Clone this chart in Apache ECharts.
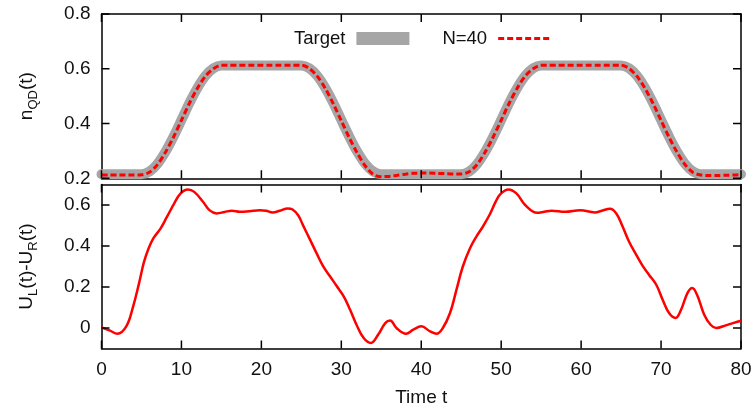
<!DOCTYPE html>
<html>
<head>
<meta charset="utf-8">
<script src="https://cdn.jsdelivr.net/npm/echarts@6/dist/echarts.min.js"></script>
<style>
  html, body { margin: 0; padding: 0; background: #fff; }
  #chart { width: 756px; height: 410px; }
</style>
</head>
<body>
<div id="chart"></div>
<script>
// Sampling times for the occupation curves (upper panel)
const timeSteps = [
  0, 1, 2, 3, 4, 5, 6, 7, 8, 9, 10, 11, 12, 13, 14, 15, 16, 17, 18, 19, 20,
  21, 22, 23, 24, 25, 26, 27, 28, 29, 30, 31, 32, 33, 34, 35, 36, 37, 38, 39, 40,
  41, 42, 43, 44, 45, 46, 47, 48, 49, 50, 51, 52, 53, 54, 55, 56, 57, 58, 59, 60,
  61, 62, 63, 64, 65, 66, 67, 68, 69, 70, 71, 72, 73, 74, 75, 76, 77, 78, 79, 80
];

// Target dot occupation n_QD(t)
const targetOccupation = [
  0.215, 0.215, 0.215, 0.215, 0.215, 0.215,
  0.225, 0.253, 0.297, 0.352, 0.413, 0.475, 0.530, 0.574, 0.602,
  0.612, 0.612, 0.612, 0.612, 0.612, 0.612, 0.612, 0.612, 0.612, 0.612, 0.612,
  0.602, 0.574, 0.530, 0.475, 0.413, 0.352, 0.297, 0.253, 0.225,
  0.215, 0.215, 0.215, 0.215, 0.215, 0.215, 0.215, 0.215, 0.215, 0.215, 0.215,
  0.225, 0.253, 0.297, 0.352, 0.413, 0.475, 0.530, 0.574, 0.602,
  0.612, 0.612, 0.612, 0.612, 0.612, 0.612, 0.612, 0.612, 0.612, 0.612, 0.612,
  0.602, 0.574, 0.530, 0.475, 0.413, 0.352, 0.297, 0.253, 0.225,
  0.215, 0.215, 0.215, 0.215, 0.215, 0.215
];

// Occupation reached with N=40 basis functions
const fittedOccupation = [
  0.212, 0.212, 0.212, 0.212, 0.212, 0.213,
  0.222, 0.250, 0.295, 0.350, 0.412, 0.474, 0.529, 0.573, 0.600,
  0.613, 0.613, 0.613, 0.613, 0.613, 0.613, 0.613, 0.613, 0.613, 0.613, 0.613,
  0.601, 0.572, 0.528, 0.472, 0.410, 0.348, 0.292, 0.245, 0.214,
  0.206, 0.207, 0.211, 0.215, 0.218, 0.219, 0.219, 0.218, 0.217, 0.216, 0.216,
  0.224, 0.251, 0.296, 0.351, 0.412, 0.474, 0.529, 0.573, 0.600,
  0.613, 0.613, 0.613, 0.613, 0.613, 0.613, 0.613, 0.613, 0.613, 0.613, 0.613,
  0.601, 0.572, 0.528, 0.473, 0.411, 0.350, 0.295, 0.250, 0.221,
  0.212, 0.210, 0.210, 0.211, 0.212, 0.213
];

// Bias voltage U_L(t)-U_R(t) (lower panel)
const biasTimes = [
  0, 1, 2, 3.1, 3.9, 4.7, 5.3, 5.9, 6.5, 7.4, 8.2, 9.1, 9.9, 10.8, 11.6, 12.7,
  13.5, 14.4, 15.4, 16.3, 17.3, 18.5, 19.8, 20.6, 21.4, 22.3, 23.3, 23.9, 24.6,
  25.2, 26.1, 26.9, 27.7, 28.6, 29.4, 30.3, 31.1, 31.9, 32.8, 33.7, 34.6, 35.5,
  36.1, 36.9, 38.1, 39.0, 40.0, 41.1, 41.9, 42.7, 43.6, 44.4, 45.2, 46.1, 46.9,
  47.7, 48.6, 49.3, 49.9, 50.9, 51.9, 53.0, 54.5, 55.4, 56.3, 58.0, 59.9, 61.7,
  62.6, 63.6, 64.4, 65.2, 66.0, 66.9, 67.7, 68.5, 69.4, 70.2, 71.0, 71.8, 72.5,
  73.3, 73.9, 74.5, 75.4, 76.2, 76.9, 78.1, 79.0, 80
];
const biasValues = [
  0.003, -0.012, -0.028, 0.008, 0.097, 0.219, 0.320, 0.389, 0.438, 0.486, 0.543, 0.608, 0.657, 0.676, 0.664, 0.616,
  0.575, 0.559, 0.566, 0.572, 0.567, 0.570, 0.575, 0.572, 0.564, 0.572, 0.583, 0.578, 0.550,
  0.502, 0.430, 0.365, 0.303, 0.251, 0.206, 0.154, 0.089, 0.016, -0.049, -0.073, -0.033, 0.024,
  0.037, 0.000, -0.028, -0.008, 0.008, -0.016, -0.028, 0.000, 0.073, 0.186, 0.300, 0.389, 0.446,
  0.494, 0.556, 0.615, 0.653, 0.676, 0.657, 0.600, 0.562, 0.567, 0.572, 0.567, 0.575, 0.564,
  0.572, 0.582, 0.559, 0.494, 0.421, 0.357, 0.303, 0.259, 0.211, 0.138, 0.073, 0.049, 0.089,
  0.170, 0.195, 0.162, 0.065, 0.016, 0.000, 0.013, 0.024, 0.035
];

const timeTicks = [0, 10, 20, 30, 40, 50, 60, 70, 80];
const occupationTicks = [0.2, 0.4, 0.6, 0.8];
const biasTicks = [0, 0.2, 0.4, 0.6];

const TIME_RANGE = [0, 80];
const OCC_RANGE = [0.2, 0.8];
const BIAS_RANGE = [-0.1, 0.7];

const FONT = '"Liberation Sans", Arial, sans-serif';
const FS = 19;
const INK = '#111';
const TICK_LEN = 8;

// panel rectangles (pixels)
const CHART_W = 756;
const PANELS = [
  { left: 101.5, right: 15, top: 14, height: 164.3 },
  { left: 101.5, right: 15, top: 184.5, height: 164 }
];

const frameLine = () => ({ show: true, onZero: false, lineStyle: { color: '#000', width: 1.5 } });
const noTick = () => ({ show: false });
const tickLabel = (vals) => ({ show: true, customValues: vals.slice(), fontSize: FS, color: INK, margin: 11, fontFamily: FONT });
const noLabel = () => ({ show: false });
const noSplit = () => ({ show: false });
const subscriptRich = () => ({
  a: { fontSize: FS, lineHeight: 26, verticalAlign: 'middle', color: INK, fontFamily: FONT },
  s: { fontSize: 13, lineHeight: 13, verticalAlign: 'bottom', color: INK, fontFamily: FONT }
});
const timeAxis = (grid, pos, extra) => Object.assign({
  gridIndex: grid, type: 'value', min: TIME_RANGE[0], max: TIME_RANGE[1], interval: 10, position: pos,
  axisLine: frameLine(), axisTick: noTick(), axisLabel: noLabel(), splitLine: noSplit()
}, extra || {});
const valueAxis = (grid, range, pos, extra) => Object.assign({
  gridIndex: grid, type: 'value', min: range[0], max: range[1], position: pos,
  axisLine: frameLine(), axisTick: noTick(), axisLabel: noLabel(), splitLine: noSplit()
}, extra || {});

// Inward tick marks on all four sides of a panel, as short segments in data space.
// Each segment is followed by an empty point so the path breaks between ticks.
function tickSegments(panel, xVals, yVals, xRange, yRange) {
  const w = CHART_W - panel.left - panel.right;
  const dx = TICK_LEN * (xRange[1] - xRange[0]) / w;
  const dy = TICK_LEN * (yRange[1] - yRange[0]) / panel.height;
  const pts = [];
  const seg = (a, b) => { pts.push(a, b, ['-', '-']); };
  xVals.forEach(v => {
    seg([v, yRange[0]], [v, yRange[0] + dy]);
    seg([v, yRange[1]], [v, yRange[1] - dy]);
  });
  yVals.forEach(v => {
    seg([xRange[0], v], [xRange[0] + dx, v]);
    seg([xRange[1], v], [xRange[1] - dx, v]);
  });
  return pts;
}
const tickSeries = (name, axisIdx, data) => ({
  name: name, type: 'line', xAxisIndex: axisIdx, yAxisIndex: axisIdx,
  data: data, smooth: false, connectNulls: false, showSymbol: false, symbol: 'none',
  silent: true, clip: false, z: 10,
  lineStyle: { color: '#000', width: 1.5, cap: 'butt' },
  itemStyle: { color: '#000' }
});

const chart = echarts.init(document.getElementById('chart'), null, { renderer: 'canvas' });

const pairs = (xs, ys) => xs.map((x, i) => [x, ys[i]]);

chart.setOption({
  animation: false,
  backgroundColor: '#fff',
  textStyle: { fontFamily: FONT },
  tooltip: { show: false },
  legend: {
    data: [
      { name: 'Target', icon: 'rect', itemStyle: { color: '#a6a6a6' } },
      { name: 'N=40', itemStyle: { opacity: 0 }, lineStyle: { color: '#ff0000', width: 3, type: [6, 3] } }
    ],
    align: 'right',
    left: 289,
    top: 24,
    itemWidth: 53,
    itemHeight: 13,
    itemGap: 33,
    textStyle: { fontFamily: FONT, fontSize: 18.5, color: INK, padding: [0, 6, 0, 0] }
  },
  grid: PANELS.map(p => Object.assign({}, p)),
  xAxis: [
    timeAxis(0, 'bottom'),
    timeAxis(0, 'top'),
    timeAxis(1, 'bottom', {
      axisLabel: Object.assign(tickLabel(timeTicks), { margin: 12 }),
      name: 'Time t', nameLocation: 'middle', nameGap: 40,
      nameTextStyle: { fontSize: FS, color: INK, fontFamily: FONT }
    }),
    timeAxis(1, 'top')
  ],
  yAxis: [
    valueAxis(0, OCC_RANGE, 'left', {
      axisLabel: tickLabel(occupationTicks),
      name: '{a|n}{s|QD}{a|(t)}', nameLocation: 'middle', nameGap: 62, nameRotate: 90,
      nameTextStyle: { fontFamily: FONT, color: INK, rich: subscriptRich() }
    }),
    valueAxis(0, OCC_RANGE, 'right'),
    valueAxis(1, BIAS_RANGE, 'left', {
      axisLabel: tickLabel(biasTicks),
      name: '{a|U}{s|L}{a|(t)-U}{s|R}{a|(t)}', nameLocation: 'middle', nameGap: 62, nameRotate: 90,
      nameTextStyle: { fontFamily: FONT, color: INK, rich: subscriptRich() }
    }),
    valueAxis(1, BIAS_RANGE, 'right')
  ],
  series: [
    {
      name: 'Target', type: 'line', xAxisIndex: 0, yAxisIndex: 0,
      data: pairs(timeSteps, targetOccupation),
      smooth: 0.3, showSymbol: false, symbol: 'none', z: 2,
      lineStyle: { color: '#a6a6a6', width: 10, cap: 'round', join: 'round' },
      itemStyle: { color: '#a6a6a6' }
    },
    {
      name: 'N=40', type: 'line', xAxisIndex: 0, yAxisIndex: 0,
      data: pairs(timeSteps, fittedOccupation),
      smooth: 0.3, showSymbol: false, symbol: 'none', z: 3,
      lineStyle: { color: '#ff0000', width: 3, type: [6, 3] },
      itemStyle: { color: '#ff0000' }
    },
    {
      name: 'Bias', type: 'line', xAxisIndex: 2, yAxisIndex: 2,
      data: pairs(biasTimes, biasValues),
      smooth: 0.4, showSymbol: false, symbol: 'none', z: 3,
      lineStyle: { color: '#ff0000', width: 2.5 },
      itemStyle: { color: '#ff0000' }
    },
    tickSeries('upper ticks', 0, tickSegments(PANELS[0], timeTicks, occupationTicks, TIME_RANGE, OCC_RANGE)),
    tickSeries('lower ticks', 2, tickSegments(PANELS[1], timeTicks, biasTicks, TIME_RANGE, BIAS_RANGE))
  ]
});
</script>
</body>
</html>
